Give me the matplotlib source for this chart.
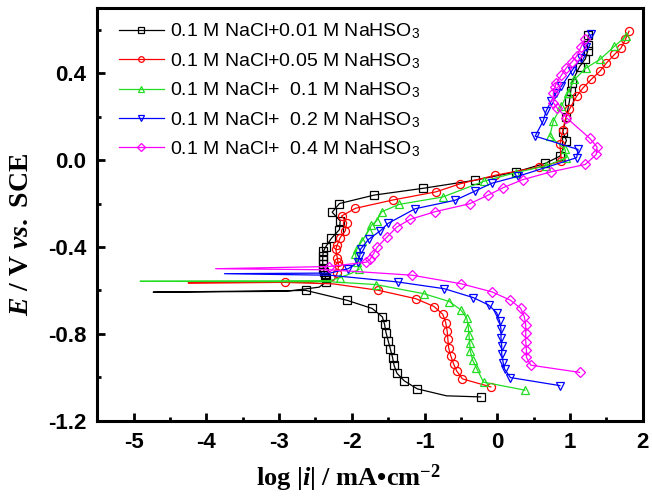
import matplotlib
matplotlib.use("Agg")
import matplotlib.pyplot as plt

# log|i| (mA cm-2) and E (V vs SCE); cathodic end -> Ecorr spike -> anodic end
logi_001 = [-0.23, -0.70, -1.10, -1.28, -1.38, -1.42, -1.44, -1.47, -1.50, -1.53, -1.55, -1.58, -1.72,
            -2.07, -2.63, -4.73, -2.90, -2.45, -2.35, -2.36, -2.37, -2.38, -2.39, -2.40, -2.40, -2.40,
            -2.39, -2.36, -2.28, -2.17, -2.16, -2.27, -2.17, -1.69, -1.02, -0.31, 0.25, 0.66, 0.86,
            0.95, 0.90, 0.95, 0.99, 1.01, 1.02, 1.13, 1.21, 1.24, 1.24, 1.25]
e_001 = [-1.090, -1.085, -1.053, -1.016, -0.981, -0.944, -0.909, -0.870, -0.832, -0.794, -0.756, -0.722,
         -0.683, -0.645, -0.600, -0.608, -0.604, -0.585, -0.560, -0.545, -0.530, -0.515, -0.500, -0.480,
         -0.460, -0.440, -0.420, -0.400, -0.360, -0.320, -0.280, -0.240, -0.200, -0.161, -0.130, -0.093,
         -0.055, -0.015, 0.018, 0.090, 0.130, 0.200, 0.270, 0.320, 0.355, 0.430, 0.466, 0.500, 0.530, 0.575]
skip_001 = [1, 15, 16, 17]

logi_005 = [-0.09, -0.48, -0.56, -0.60, -0.64, -0.67, -0.68, -0.69, -0.71, -0.75, -0.87, -1.12, -1.64,
            -2.25, -2.92, -4.25, -2.60, -2.25, -2.20, -2.18, -2.19, -2.20, -2.22, -2.20, -2.16, -2.09,
            -2.07, -2.14, -1.95, -1.44, -0.84, -0.51, -0.03, 0.57, 0.88, 0.86, 0.90, 0.94, 0.99, 1.09,
            1.18, 1.29, 1.41, 1.50, 1.61, 1.70, 1.76, 1.81]
e_005 = [-1.044, -1.007, -0.970, -0.939, -0.901, -0.863, -0.824, -0.786, -0.748, -0.710, -0.674, -0.638,
         -0.599, -0.570, -0.563, -0.565, -0.562, -0.555, -0.520, -0.487, -0.470, -0.450, -0.410, -0.390,
         -0.357, -0.326, -0.288, -0.257, -0.222, -0.184, -0.146, -0.109, -0.070, -0.032, -0.005, 0.072,
         0.140, 0.195, 0.233, 0.294, 0.333, 0.371, 0.409, 0.447, 0.486, 0.516, 0.555, 0.593]
skip_005 = [13, 15, 16, 17]

logi_01 = [0.38, -0.19, -0.29, -0.34, -0.37, -0.38, -0.39, -0.40, -0.42, -0.50, -0.66, -1.01, -1.67,
           -2.30, -4.91, -2.30, -2.16, -2.00, -1.90, -1.93, -1.95, -1.93, -1.86, -1.77, -1.73, -1.66,
           -1.59, -1.35, -0.75, -0.18, 0.25, 0.67, 0.95, 0.93, 0.72, 0.77, 0.88, 0.97, 1.06, 1.22,
           1.41, 1.61, 1.77]
e_01 = [-1.059, -1.022, -0.955, -0.920, -0.881, -0.843, -0.805, -0.766, -0.728, -0.690, -0.651, -0.615,
        -0.573, -0.560, -0.558, -0.555, -0.541, -0.520, -0.503, -0.470, -0.434, -0.410, -0.372, -0.326,
        -0.300, -0.280, -0.238, -0.204, -0.170, -0.097, -0.058, -0.027, 0.011, 0.050, 0.110, 0.180,
        0.248, 0.310, 0.371, 0.424, 0.463, 0.524, 0.570]
skip_01 = [13, 14, 15, 17]

logi_02 = [0.86, 0.18, 0.10, 0.08, 0.06, 0.06, 0.05, 0.05, 0.03, -0.01, -0.12, -0.33, -0.73, -1.37,
           -2.30, -3.75, -2.30, -2.05, -1.92, -1.89, -1.88, -1.77, -1.61, -1.50, -1.13, -0.58, -0.31,
           -0.08, 0.29, 1.09, 1.11, 0.52, 0.63, 0.67, 0.74, 0.81, 0.88, 1.02, 1.15, 1.22, 1.29]
e_02 = [-1.038, -1.001, -0.962, -0.932, -0.893, -0.855, -0.817, -0.778, -0.740, -0.702, -0.667, -0.633,
        -0.592, -0.561, -0.530, -0.523, -0.520, -0.500, -0.470, -0.441, -0.410, -0.365, -0.326, -0.291,
        -0.224, -0.185, -0.143, -0.107, -0.074, 0.011, 0.049, 0.110, 0.180, 0.225, 0.271, 0.310, 0.340,
        0.409, 0.470, 0.520, 0.578]
skip_02 = [14, 15, 16]

logi_04 = [1.13, 0.46, 0.40, 0.40, 0.39, 0.39, 0.39, 0.37, 0.32, 0.18, -0.07, -0.50, -1.17, -2.30,
           -3.87, -2.32, -1.80, -1.75, -1.70, -1.65, -1.51, -1.38, -1.20, -0.86, -0.38, -0.13, 0.08,
           0.35, 0.74, 1.21, 1.36, 1.37, 1.27, 0.95, 0.82, 0.77, 0.77, 0.79, 0.81, 0.88, 0.95, 1.02,
           1.09, 1.15, 1.20]
e_04 = [-0.977, -0.944, -0.908, -0.874, -0.836, -0.797, -0.759, -0.720, -0.682, -0.645, -0.607, -0.569,
        -0.530, -0.505, -0.500, -0.490, -0.470, -0.457, -0.430, -0.400, -0.352, -0.308, -0.273, -0.238,
        -0.201, -0.162, -0.127, -0.090, -0.054, -0.020, 0.026, 0.060, 0.100, 0.195, 0.240, 0.264, 0.310,
        0.335, 0.355, 0.390, 0.425, 0.450, 0.478, 0.520, 0.555]
skip_04 = [13, 14]

series = [
    (logi_001, e_001, skip_001, "0.1 M NaCl+0.01 M NaHSO$_\\mathsf{3}$", "black", "s"),
    (logi_005, e_005, skip_005, "0.1 M NaCl+0.05 M NaHSO$_\\mathsf{3}$", "red", "o"),
    (logi_01, e_01, skip_01, "0.1 M NaCl+  0.1 M NaHSO$_\\mathsf{3}$", "#22dd22", "^"),
    (logi_02, e_02, skip_02, "0.1 M NaCl+  0.2 M NaHSO$_\\mathsf{3}$", "blue", "v"),
    (logi_04, e_04, skip_04, "0.1 M NaCl+  0.4 M NaHSO$_\\mathsf{3}$", "magenta", "D"),
]

plt.rcParams["mathtext.fontset"] = "custom"
plt.rcParams["mathtext.rm"] = "Liberation Serif:bold"
plt.rcParams["mathtext.it"] = "Liberation Serif:italic:bold"
plt.rcParams["mathtext.bf"] = "Liberation Serif:bold"
plt.rcParams["mathtext.sf"] = "Liberation Sans"

fig = plt.figure(figsize=(6.52, 4.98), dpi=100)
ax = fig.add_axes([0.149, 0.155, 0.837, 0.829])

for x, y, skip, label, color, mk in series:
    marks = [i for i in range(len(x)) if i not in skip]
    ms = 5.3 if mk == "D" else 5.8
    ax.plot(x, y, color=color, lw=0.9, marker=mk, ms=ms, mfc="none", mec=color,
            mew=0.9, markevery=marks, label=label)

ax.set_xlim(-5.5, 2.0)
ax.set_ylim(-1.2, 0.7)
ax.set_xticks(range(-5, 3))
ax.set_xticks([v / 2 for v in range(-11, 4)], minor=True)
ax.set_yticks([-1.2, -0.8, -0.4, 0.0, 0.4])
ax.set_yticks([-1.0, -0.6, -0.2, 0.2, 0.6], minor=True)
ax.set_yticklabels(["-1.2", "-0.8", "-0.4", "0.0", "0.4"])
ax.set_xticklabels([str(v) for v in range(-5, 3)])

ax.tick_params(which="both", direction="in", width=2, top=False, right=False)
ax.tick_params(which="major", length=6, pad=8)
ax.tick_params(which="minor", length=3)
for lab in ax.get_xticklabels() + ax.get_yticklabels():
    lab.set_fontfamily("Liberation Sans")
    lab.set_fontweight("bold")
    lab.set_fontsize(16)
for sp in ax.spines.values():
    sp.set_linewidth(2.2)

ax.set_xlabel("log |$i$| / mA\u2022cm$^{-2}$", family="Liberation Serif",
              fontweight="bold", fontsize=19)
ax.xaxis.set_label_coords(0.46, -0.1)
ax.xaxis.label.set_va("top")
ax.set_ylabel("$E$ / V $vs.$ SCE", family="Liberation Serif",
              fontweight="bold", fontsize=20)
ax.yaxis.set_label_coords(-0.115, 0.45)

leg = ax.legend(loc="upper left", bbox_to_anchor=(0.015, 1.0), frameon=False,
                prop={"family": "Liberation Sans", "size": 14}, handlelength=2.3,
                handletextpad=0.35, labelspacing=0.5, borderpad=0.2, markerscale=0.7)

fig.savefig("out.png", dpi=100)
